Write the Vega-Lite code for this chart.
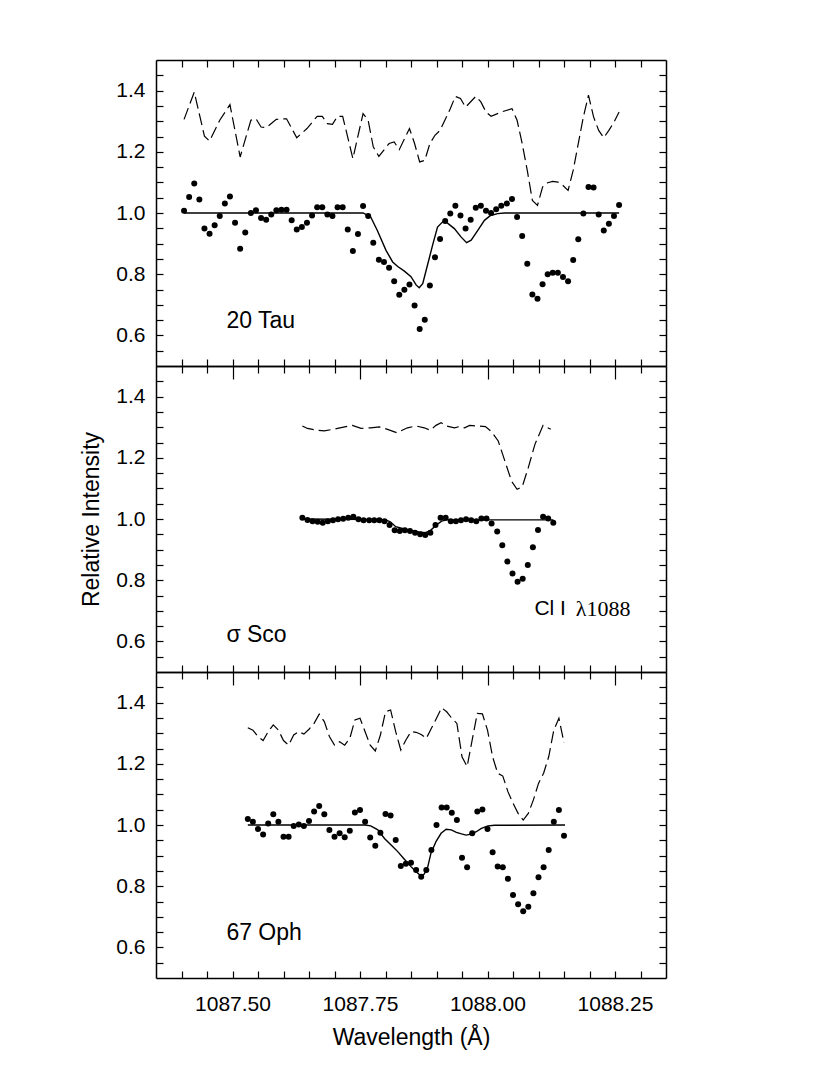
{
  "$schema": "https://vega.github.io/schema/vega-lite/v6.json",
  "padding": {"left": 80, "top": 59, "right": 10, "bottom": 10},
  "config": {
    "font": "Liberation Sans",
    "view": {"stroke": null},
    "axis": {
      "grid": false, "domain": true, "domainColor": "black", "domainWidth": 1.5,
      "ticks": true, "tickColor": "black", "tickWidth": 1.2, "tickSize": -7,
      "labelColor": "black", "labelFontSize": 21, "labelOverlap": false, "labelFlush": false,
      "titleFontSize": 23, "titleFontWeight": "normal", "titleColor": "black"
    }
  },
  "data": {"values": [
    {"p":"a","s":"o","w":1087.405,"r":1.007},{"p":"a","s":"o","w":1087.415,"r":1.052},{"p":"a","s":"o","w":1087.425,"r":1.096},{"p":"a","s":"o","w":1087.435,"r":1.044},
    {"p":"a","s":"o","w":1087.445,"r":0.949},{"p":"a","s":"o","w":1087.455,"r":0.932},{"p":"a","s":"o","w":1087.465,"r":0.960},{"p":"a","s":"o","w":1087.475,"r":0.990},
    {"p":"a","s":"o","w":1087.485,"r":1.031},{"p":"a","s":"o","w":1087.495,"r":1.054},{"p":"a","s":"o","w":1087.505,"r":0.968},{"p":"a","s":"o","w":1087.515,"r":0.883},
    {"p":"a","s":"o","w":1087.525,"r":0.936},{"p":"a","s":"o","w":1087.536,"r":1.000},{"p":"a","s":"o","w":1087.546,"r":1.009},{"p":"a","s":"o","w":1087.556,"r":0.984},
    {"p":"a","s":"o","w":1087.566,"r":0.978},{"p":"a","s":"o","w":1087.576,"r":0.995},{"p":"a","s":"o","w":1087.586,"r":1.009},{"p":"a","s":"o","w":1087.596,"r":1.011},
    {"p":"a","s":"o","w":1087.606,"r":1.011},{"p":"a","s":"o","w":1087.616,"r":0.976},{"p":"a","s":"o","w":1087.626,"r":0.946},{"p":"a","s":"o","w":1087.636,"r":0.954},
    {"p":"a","s":"o","w":1087.646,"r":0.968},{"p":"a","s":"o","w":1087.656,"r":0.992},{"p":"a","s":"o","w":1087.666,"r":1.019},{"p":"a","s":"o","w":1087.676,"r":1.019},
    {"p":"a","s":"o","w":1087.686,"r":0.995},{"p":"a","s":"o","w":1087.696,"r":0.990},{"p":"a","s":"o","w":1087.706,"r":1.019},{"p":"a","s":"o","w":1087.716,"r":1.019},
    {"p":"a","s":"o","w":1087.726,"r":0.946},{"p":"a","s":"o","w":1087.736,"r":0.876},{"p":"a","s":"o","w":1087.746,"r":0.931},{"p":"a","s":"o","w":1087.756,"r":1.023},
    {"p":"a","s":"o","w":1087.766,"r":0.990},{"p":"a","s":"o","w":1087.776,"r":0.903},{"p":"a","s":"o","w":1087.787,"r":0.847},{"p":"a","s":"o","w":1087.797,"r":0.840},
    {"p":"a","s":"o","w":1087.807,"r":0.821},{"p":"a","s":"o","w":1087.817,"r":0.777},{"p":"a","s":"o","w":1087.827,"r":0.733},{"p":"a","s":"o","w":1087.837,"r":0.749},
    {"p":"a","s":"o","w":1087.847,"r":0.766},{"p":"a","s":"o","w":1087.857,"r":0.698},{"p":"a","s":"o","w":1087.867,"r":0.621},{"p":"a","s":"o","w":1087.877,"r":0.651},
    {"p":"a","s":"o","w":1087.887,"r":0.763},{"p":"a","s":"o","w":1087.897,"r":0.855},{"p":"a","s":"o","w":1087.907,"r":0.915},{"p":"a","s":"o","w":1087.917,"r":0.974},
    {"p":"a","s":"o","w":1087.927,"r":0.998},{"p":"a","s":"o","w":1087.937,"r":1.024},{"p":"a","s":"o","w":1087.947,"r":0.992},{"p":"a","s":"o","w":1087.957,"r":0.949},
    {"p":"a","s":"o","w":1087.967,"r":0.978},{"p":"a","s":"o","w":1087.977,"r":1.017},{"p":"a","s":"o","w":1087.987,"r":1.024},{"p":"a","s":"o","w":1087.997,"r":1.007},
    {"p":"a","s":"o","w":1088.007,"r":1.000},{"p":"a","s":"o","w":1088.017,"r":1.012},{"p":"a","s":"o","w":1088.027,"r":1.024},{"p":"a","s":"o","w":1088.038,"r":1.031},
    {"p":"a","s":"o","w":1088.048,"r":1.046},{"p":"a","s":"o","w":1088.058,"r":0.987},{"p":"a","s":"o","w":1088.068,"r":0.925},{"p":"a","s":"o","w":1088.078,"r":0.834},
    {"p":"a","s":"o","w":1088.088,"r":0.734},{"p":"a","s":"o","w":1088.098,"r":0.720},{"p":"a","s":"o","w":1088.108,"r":0.767},{"p":"a","s":"o","w":1088.118,"r":0.800},
    {"p":"a","s":"o","w":1088.128,"r":0.805},{"p":"a","s":"o","w":1088.138,"r":0.805},{"p":"a","s":"o","w":1088.148,"r":0.791},{"p":"a","s":"o","w":1088.158,"r":0.777},
    {"p":"a","s":"o","w":1088.168,"r":0.846},{"p":"a","s":"o","w":1088.178,"r":0.914},{"p":"a","s":"o","w":1088.188,"r":0.998},{"p":"a","s":"o","w":1088.198,"r":1.085},
    {"p":"a","s":"o","w":1088.208,"r":1.083},{"p":"a","s":"o","w":1088.218,"r":0.995},{"p":"a","s":"o","w":1088.228,"r":0.943},{"p":"a","s":"o","w":1088.238,"r":0.965},
    {"p":"a","s":"o","w":1088.248,"r":0.990},{"p":"a","s":"o","w":1088.258,"r":1.026},

    {"p":"a","s":"d","w":1087.405,"r":1.306},{"p":"a","s":"d","w":1087.425,"r":1.395},{"p":"a","s":"d","w":1087.445,"r":1.251},{"p":"a","s":"d","w":1087.455,"r":1.235},
    {"p":"a","s":"d","w":1087.475,"r":1.303},{"p":"a","s":"d","w":1087.495,"r":1.354},{"p":"a","s":"d","w":1087.515,"r":1.183},{"p":"a","s":"d","w":1087.536,"r":1.303},
    {"p":"a","s":"d","w":1087.546,"r":1.308},{"p":"a","s":"d","w":1087.556,"r":1.281},{"p":"a","s":"d","w":1087.566,"r":1.279},{"p":"a","s":"d","w":1087.586,"r":1.306},
    {"p":"a","s":"d","w":1087.606,"r":1.308},{"p":"a","s":"d","w":1087.626,"r":1.246},{"p":"a","s":"d","w":1087.646,"r":1.276},{"p":"a","s":"d","w":1087.666,"r":1.316},
    {"p":"a","s":"d","w":1087.676,"r":1.316},{"p":"a","s":"d","w":1087.686,"r":1.292},{"p":"a","s":"d","w":1087.696,"r":1.290},{"p":"a","s":"d","w":1087.706,"r":1.316},
    {"p":"a","s":"d","w":1087.716,"r":1.316},{"p":"a","s":"d","w":1087.736,"r":1.178},{"p":"a","s":"d","w":1087.756,"r":1.325},{"p":"a","s":"d","w":1087.766,"r":1.303},
    {"p":"a","s":"d","w":1087.776,"r":1.216},{"p":"a","s":"d","w":1087.787,"r":1.185},{"p":"a","s":"d","w":1087.807,"r":1.227},{"p":"a","s":"d","w":1087.817,"r":1.232},
    {"p":"a","s":"d","w":1087.827,"r":1.207},{"p":"a","s":"d","w":1087.847,"r":1.276},{"p":"a","s":"d","w":1087.857,"r":1.227},{"p":"a","s":"d","w":1087.867,"r":1.167},
    {"p":"a","s":"d","w":1087.877,"r":1.172},{"p":"a","s":"d","w":1087.887,"r":1.227},{"p":"a","s":"d","w":1087.897,"r":1.254},{"p":"a","s":"d","w":1087.907,"r":1.270},
    {"p":"a","s":"d","w":1087.927,"r":1.341},{"p":"a","s":"d","w":1087.937,"r":1.381},{"p":"a","s":"d","w":1087.947,"r":1.374},{"p":"a","s":"d","w":1087.957,"r":1.346},
    {"p":"a","s":"d","w":1087.977,"r":1.381},{"p":"a","s":"d","w":1087.987,"r":1.363},{"p":"a","s":"d","w":1087.997,"r":1.330},{"p":"a","s":"d","w":1088.007,"r":1.316},
    {"p":"a","s":"d","w":1088.027,"r":1.330},{"p":"a","s":"d","w":1088.048,"r":1.341},{"p":"a","s":"d","w":1088.058,"r":1.303},{"p":"a","s":"d","w":1088.068,"r":1.227},
    {"p":"a","s":"d","w":1088.078,"r":1.139},{"p":"a","s":"d","w":1088.088,"r":1.041},{"p":"a","s":"d","w":1088.098,"r":1.025},{"p":"a","s":"d","w":1088.108,"r":1.085},
    {"p":"a","s":"d","w":1088.118,"r":1.099},{"p":"a","s":"d","w":1088.128,"r":1.103},{"p":"a","s":"d","w":1088.138,"r":1.101},{"p":"a","s":"d","w":1088.148,"r":1.090},
    {"p":"a","s":"d","w":1088.158,"r":1.074},{"p":"a","s":"d","w":1088.168,"r":1.139},{"p":"a","s":"d","w":1088.178,"r":1.227},{"p":"a","s":"d","w":1088.188,"r":1.314},
    {"p":"a","s":"d","w":1088.198,"r":1.385},{"p":"a","s":"d","w":1088.208,"r":1.314},{"p":"a","s":"d","w":1088.218,"r":1.270},{"p":"a","s":"d","w":1088.228,"r":1.246},
    {"p":"a","s":"d","w":1088.238,"r":1.270},{"p":"a","s":"d","w":1088.248,"r":1.297},{"p":"a","s":"d","w":1088.258,"r":1.330},

    {"p":"a","s":"m","w":1087.405,"r":1.0},{"p":"a","s":"m","w":1087.756,"r":1.0},{"p":"a","s":"m","w":1087.771,"r":0.987},{"p":"a","s":"m","w":1087.784,"r":0.943},
    {"p":"a","s":"m","w":1087.801,"r":0.878},{"p":"a","s":"m","w":1087.814,"r":0.840},{"p":"a","s":"m","w":1087.824,"r":0.825},{"p":"a","s":"m","w":1087.837,"r":0.810},
    {"p":"a","s":"m","w":1087.850,"r":0.792},{"p":"a","s":"m","w":1087.860,"r":0.765},{"p":"a","s":"m","w":1087.866,"r":0.756},{"p":"a","s":"m","w":1087.873,"r":0.769},
    {"p":"a","s":"m","w":1087.883,"r":0.834},{"p":"a","s":"m","w":1087.893,"r":0.899},{"p":"a","s":"m","w":1087.902,"r":0.954},{"p":"a","s":"m","w":1087.915,"r":0.976},
    {"p":"a","s":"m","w":1087.935,"r":0.949},{"p":"a","s":"m","w":1087.948,"r":0.922},{"p":"a","s":"m","w":1087.959,"r":0.903},{"p":"a","s":"m","w":1087.968,"r":0.911},
    {"p":"a","s":"m","w":1087.981,"r":0.943},{"p":"a","s":"m","w":1087.994,"r":0.976},{"p":"a","s":"m","w":1088.006,"r":0.992},{"p":"a","s":"m","w":1088.020,"r":0.998},
    {"p":"a","s":"m","w":1088.033,"r":1.0},{"p":"a","s":"m","w":1088.258,"r":1.0},

    {"p":"b","s":"o","w":1087.637,"r":1.004},{"p":"b","s":"o","w":1087.647,"r":0.997},{"p":"b","s":"o","w":1087.657,"r":0.993},{"p":"b","s":"o","w":1087.667,"r":0.991},
    {"p":"b","s":"o","w":1087.677,"r":0.988},{"p":"b","s":"o","w":1087.687,"r":0.993},{"p":"b","s":"o","w":1087.697,"r":0.996},{"p":"b","s":"o","w":1087.707,"r":0.999},
    {"p":"b","s":"o","w":1087.717,"r":1.001},{"p":"b","s":"o","w":1087.727,"r":1.004},{"p":"b","s":"o","w":1087.737,"r":1.007},{"p":"b","s":"o","w":1087.747,"r":0.999},
    {"p":"b","s":"o","w":1087.757,"r":0.996},{"p":"b","s":"o","w":1087.768,"r":0.996},{"p":"b","s":"o","w":1087.778,"r":0.996},{"p":"b","s":"o","w":1087.788,"r":0.996},
    {"p":"b","s":"o","w":1087.798,"r":0.993},{"p":"b","s":"o","w":1087.808,"r":0.980},{"p":"b","s":"o","w":1087.818,"r":0.963},{"p":"b","s":"o","w":1087.828,"r":0.961},
    {"p":"b","s":"o","w":1087.838,"r":0.963},{"p":"b","s":"o","w":1087.848,"r":0.961},{"p":"b","s":"o","w":1087.858,"r":0.955},{"p":"b","s":"o","w":1087.868,"r":0.950},
    {"p":"b","s":"o","w":1087.878,"r":0.948},{"p":"b","s":"o","w":1087.888,"r":0.955},{"p":"b","s":"o","w":1087.898,"r":0.980},{"p":"b","s":"o","w":1087.908,"r":1.004},
    {"p":"b","s":"o","w":1087.918,"r":1.004},{"p":"b","s":"o","w":1087.928,"r":0.993},{"p":"b","s":"o","w":1087.938,"r":0.993},{"p":"b","s":"o","w":1087.948,"r":0.996},
    {"p":"b","s":"o","w":1087.958,"r":0.999},{"p":"b","s":"o","w":1087.968,"r":0.996},{"p":"b","s":"o","w":1087.978,"r":0.993},{"p":"b","s":"o","w":1087.988,"r":1.002},
    {"p":"b","s":"o","w":1087.998,"r":1.002},{"p":"b","s":"o","w":1088.008,"r":0.985},{"p":"b","s":"o","w":1088.019,"r":0.959},{"p":"b","s":"o","w":1088.029,"r":0.914},
    {"p":"b","s":"o","w":1088.039,"r":0.861},{"p":"b","s":"o","w":1088.049,"r":0.822},{"p":"b","s":"o","w":1088.059,"r":0.795},{"p":"b","s":"o","w":1088.069,"r":0.805},
    {"p":"b","s":"o","w":1088.079,"r":0.850},{"p":"b","s":"o","w":1088.089,"r":0.908},{"p":"b","s":"o","w":1088.099,"r":0.964},{"p":"b","s":"o","w":1088.109,"r":1.007},
    {"p":"b","s":"o","w":1088.119,"r":1.002},{"p":"b","s":"o","w":1088.129,"r":0.988},

    {"p":"b","s":"d","w":1087.637,"r":1.304},{"p":"b","s":"d","w":1087.647,"r":1.296},{"p":"b","s":"d","w":1087.666,"r":1.290},{"p":"b","s":"d","w":1087.680,"r":1.288},
    {"p":"b","s":"d","w":1087.706,"r":1.296},{"p":"b","s":"d","w":1087.735,"r":1.306},{"p":"b","s":"d","w":1087.752,"r":1.296},{"p":"b","s":"d","w":1087.771,"r":1.298},
    {"p":"b","s":"d","w":1087.788,"r":1.301},{"p":"b","s":"d","w":1087.804,"r":1.293},{"p":"b","s":"d","w":1087.822,"r":1.282},{"p":"b","s":"d","w":1087.843,"r":1.298},
    {"p":"b","s":"d","w":1087.860,"r":1.304},{"p":"b","s":"d","w":1087.876,"r":1.298},{"p":"b","s":"d","w":1087.888,"r":1.290},{"p":"b","s":"d","w":1087.899,"r":1.306},
    {"p":"b","s":"d","w":1087.909,"r":1.315},{"p":"b","s":"d","w":1087.919,"r":1.304},{"p":"b","s":"d","w":1087.935,"r":1.298},{"p":"b","s":"d","w":1087.945,"r":1.302},
    {"p":"b","s":"d","w":1087.955,"r":1.298},{"p":"b","s":"d","w":1087.965,"r":1.306},{"p":"b","s":"d","w":1087.978,"r":1.304},{"p":"b","s":"d","w":1087.996,"r":1.302},
    {"p":"b","s":"d","w":1088.008,"r":1.285},{"p":"b","s":"d","w":1088.021,"r":1.255},{"p":"b","s":"d","w":1088.034,"r":1.190},{"p":"b","s":"d","w":1088.047,"r":1.124},
    {"p":"b","s":"d","w":1088.058,"r":1.097},{"p":"b","s":"d","w":1088.068,"r":1.105},{"p":"b","s":"d","w":1088.080,"r":1.168},{"p":"b","s":"d","w":1088.093,"r":1.244},
    {"p":"b","s":"d","w":1088.109,"r":1.306},{"p":"b","s":"d","w":1088.124,"r":1.293},

    {"p":"b","s":"m","w":1087.637,"r":1.0},{"p":"b","s":"m","w":1087.800,"r":0.998},{"p":"b","s":"m","w":1087.810,"r":0.990},{"p":"b","s":"m","w":1087.820,"r":0.975},
    {"p":"b","s":"m","w":1087.835,"r":0.968},{"p":"b","s":"m","w":1087.850,"r":0.963},{"p":"b","s":"m","w":1087.865,"r":0.958},{"p":"b","s":"m","w":1087.878,"r":0.955},
    {"p":"b","s":"m","w":1087.888,"r":0.962},{"p":"b","s":"m","w":1087.898,"r":0.978},{"p":"b","s":"m","w":1087.910,"r":0.993},{"p":"b","s":"m","w":1087.920,"r":0.997},
    {"p":"b","s":"m","w":1088.129,"r":0.997},

    {"p":"c","s":"o","w":1087.53,"r":1.020},{"p":"c","s":"o","w":1087.54,"r":1.011},{"p":"c","s":"o","w":1087.55,"r":0.987},{"p":"c","s":"o","w":1087.56,"r":0.969},
    {"p":"c","s":"o","w":1087.57,"r":1.005},{"p":"c","s":"o","w":1087.58,"r":1.035},{"p":"c","s":"o","w":1087.59,"r":1.011},{"p":"c","s":"o","w":1087.60,"r":0.962},
    {"p":"c","s":"o","w":1087.61,"r":0.962},{"p":"c","s":"o","w":1087.62,"r":0.997},{"p":"c","s":"o","w":1087.63,"r":1.002},{"p":"c","s":"o","w":1087.64,"r":0.997},
    {"p":"c","s":"o","w":1087.65,"r":1.013},{"p":"c","s":"o","w":1087.66,"r":1.044},{"p":"c","s":"o","w":1087.67,"r":1.062},{"p":"c","s":"o","w":1087.68,"r":1.035},
    {"p":"c","s":"o","w":1087.69,"r":0.984},{"p":"c","s":"o","w":1087.70,"r":0.962},{"p":"c","s":"o","w":1087.71,"r":0.973},{"p":"c","s":"o","w":1087.72,"r":0.960},
    {"p":"c","s":"o","w":1087.73,"r":0.981},{"p":"c","s":"o","w":1087.74,"r":1.041},{"p":"c","s":"o","w":1087.75,"r":1.049},{"p":"c","s":"o","w":1087.76,"r":1.011},
    {"p":"c","s":"o","w":1087.77,"r":0.959},{"p":"c","s":"o","w":1087.78,"r":0.932},{"p":"c","s":"o","w":1087.79,"r":0.975},{"p":"c","s":"o","w":1087.80,"r":1.036},
    {"p":"c","s":"o","w":1087.81,"r":1.031},{"p":"c","s":"o","w":1087.82,"r":0.951},{"p":"c","s":"o","w":1087.83,"r":0.866},{"p":"c","s":"o","w":1087.84,"r":0.873},
    {"p":"c","s":"o","w":1087.85,"r":0.877},{"p":"c","s":"o","w":1087.86,"r":0.853},{"p":"c","s":"o","w":1087.87,"r":0.831},{"p":"c","s":"o","w":1087.88,"r":0.853},
    {"p":"c","s":"o","w":1087.89,"r":0.918},{"p":"c","s":"o","w":1087.90,"r":1.000},{"p":"c","s":"o","w":1087.91,"r":1.057},{"p":"c","s":"o","w":1087.92,"r":1.057},
    {"p":"c","s":"o","w":1087.93,"r":1.040},{"p":"c","s":"o","w":1087.94,"r":1.016},{"p":"c","s":"o","w":1087.95,"r":0.893},{"p":"c","s":"o","w":1087.96,"r":0.862},
    {"p":"c","s":"o","w":1087.97,"r":0.973},{"p":"c","s":"o","w":1087.98,"r":1.044},{"p":"c","s":"o","w":1087.99,"r":1.051},{"p":"c","s":"o","w":1088.00,"r":0.987},
    {"p":"c","s":"o","w":1088.01,"r":0.911},{"p":"c","s":"o","w":1088.02,"r":0.864},{"p":"c","s":"o","w":1088.03,"r":0.862},{"p":"c","s":"o","w":1088.04,"r":0.824},
    {"p":"c","s":"o","w":1088.05,"r":0.771},{"p":"c","s":"o","w":1088.06,"r":0.741},{"p":"c","s":"o","w":1088.07,"r":0.718},{"p":"c","s":"o","w":1088.08,"r":0.733},
    {"p":"c","s":"o","w":1088.09,"r":0.777},{"p":"c","s":"o","w":1088.10,"r":0.829},{"p":"c","s":"o","w":1088.11,"r":0.862},{"p":"c","s":"o","w":1088.12,"r":0.918},
    {"p":"c","s":"o","w":1088.13,"r":1.011},{"p":"c","s":"o","w":1088.14,"r":1.049},{"p":"c","s":"o","w":1088.15,"r":0.965},

    {"p":"c","s":"d","w":1087.53,"r":1.318},{"p":"c","s":"d","w":1087.54,"r":1.310},{"p":"c","s":"d","w":1087.55,"r":1.289},{"p":"c","s":"d","w":1087.56,"r":1.276},
    {"p":"c","s":"d","w":1087.57,"r":1.305},{"p":"c","s":"d","w":1087.58,"r":1.327},{"p":"c","s":"d","w":1087.59,"r":1.310},{"p":"c","s":"d","w":1087.60,"r":1.276},
    {"p":"c","s":"d","w":1087.61,"r":1.261},{"p":"c","s":"d","w":1087.62,"r":1.294},{"p":"c","s":"d","w":1087.63,"r":1.305},{"p":"c","s":"d","w":1087.64,"r":1.297},
    {"p":"c","s":"d","w":1087.65,"r":1.313},{"p":"c","s":"d","w":1087.66,"r":1.332},{"p":"c","s":"d","w":1087.67,"r":1.362},{"p":"c","s":"d","w":1087.68,"r":1.338},
    {"p":"c","s":"d","w":1087.69,"r":1.289},{"p":"c","s":"d","w":1087.70,"r":1.261},{"p":"c","s":"d","w":1087.71,"r":1.272},{"p":"c","s":"d","w":1087.72,"r":1.261},
    {"p":"c","s":"d","w":1087.73,"r":1.283},{"p":"c","s":"d","w":1087.74,"r":1.343},{"p":"c","s":"d","w":1087.75,"r":1.349},{"p":"c","s":"d","w":1087.76,"r":1.305},
    {"p":"c","s":"d","w":1087.77,"r":1.261},{"p":"c","s":"d","w":1087.78,"r":1.242},{"p":"c","s":"d","w":1087.79,"r":1.294},{"p":"c","s":"d","w":1087.80,"r":1.370},
    {"p":"c","s":"d","w":1087.81,"r":1.376},{"p":"c","s":"d","w":1087.82,"r":1.305},{"p":"c","s":"d","w":1087.83,"r":1.245},{"p":"c","s":"d","w":1087.84,"r":1.278},
    {"p":"c","s":"d","w":1087.85,"r":1.305},{"p":"c","s":"d","w":1087.86,"r":1.303},{"p":"c","s":"d","w":1087.87,"r":1.296},{"p":"c","s":"d","w":1087.88,"r":1.283},
    {"p":"c","s":"d","w":1087.89,"r":1.316},{"p":"c","s":"d","w":1087.90,"r":1.349},{"p":"c","s":"d","w":1087.91,"r":1.383},{"p":"c","s":"d","w":1087.92,"r":1.370},
    {"p":"c","s":"d","w":1087.93,"r":1.349},{"p":"c","s":"d","w":1087.94,"r":1.332},{"p":"c","s":"d","w":1087.95,"r":1.223},{"p":"c","s":"d","w":1087.96,"r":1.191},
    {"p":"c","s":"d","w":1087.97,"r":1.278},{"p":"c","s":"d","w":1087.98,"r":1.365},{"p":"c","s":"d","w":1087.99,"r":1.363},{"p":"c","s":"d","w":1088.00,"r":1.310},
    {"p":"c","s":"d","w":1088.01,"r":1.223},{"p":"c","s":"d","w":1088.02,"r":1.169},{"p":"c","s":"d","w":1088.03,"r":1.160},{"p":"c","s":"d","w":1088.04,"r":1.109},
    {"p":"c","s":"d","w":1088.05,"r":1.071},{"p":"c","s":"d","w":1088.06,"r":1.038},{"p":"c","s":"d","w":1088.07,"r":1.016},{"p":"c","s":"d","w":1088.08,"r":1.038},
    {"p":"c","s":"d","w":1088.09,"r":1.082},{"p":"c","s":"d","w":1088.10,"r":1.136},{"p":"c","s":"d","w":1088.11,"r":1.169},{"p":"c","s":"d","w":1088.12,"r":1.223},
    {"p":"c","s":"d","w":1088.13,"r":1.310},{"p":"c","s":"d","w":1088.14,"r":1.349},{"p":"c","s":"d","w":1088.15,"r":1.269},

    {"p":"c","s":"m","w":1087.53,"r":1.0},{"p":"c","s":"m","w":1087.76,"r":1.0},{"p":"c","s":"m","w":1087.771,"r":0.997},{"p":"c","s":"m","w":1087.785,"r":0.984},
    {"p":"c","s":"m","w":1087.798,"r":0.956},{"p":"c","s":"m","w":1087.811,"r":0.935},{"p":"c","s":"m","w":1087.824,"r":0.913},{"p":"c","s":"m","w":1087.837,"r":0.888},
    {"p":"c","s":"m","w":1087.850,"r":0.864},{"p":"c","s":"m","w":1087.860,"r":0.847},{"p":"c","s":"m","w":1087.870,"r":0.833},{"p":"c","s":"m","w":1087.876,"r":0.840},
    {"p":"c","s":"m","w":1087.883,"r":0.864},{"p":"c","s":"m","w":1087.889,"r":0.907},{"p":"c","s":"m","w":1087.899,"r":0.946},{"p":"c","s":"m","w":1087.909,"r":0.973},
    {"p":"c","s":"m","w":1087.919,"r":0.986},{"p":"c","s":"m","w":1087.929,"r":0.984},{"p":"c","s":"m","w":1087.939,"r":0.976},{"p":"c","s":"m","w":1087.949,"r":0.971},
    {"p":"c","s":"m","w":1087.958,"r":0.967},{"p":"c","s":"m","w":1087.968,"r":0.970},{"p":"c","s":"m","w":1087.978,"r":0.978},{"p":"c","s":"m","w":1087.988,"r":0.989},
    {"p":"c","s":"m","w":1088.001,"r":0.997},{"p":"c","s":"m","w":1088.014,"r":0.999},{"p":"c","s":"m","w":1088.152,"r":1.0}
  ]},
  "spacing": 0,
  "bounds": "flush",
  "vconcat": [
    {
      "width": 510, "height": 306,
      "transform": [{"filter": "datum.p == 'a'"}],
      "layer": [
        {"transform": [{"filter": "datum.s == 'o'"}],
         "mark": {"type": "circle", "size": 36, "color": "black", "opacity": 1},
         "encoding": {
           "x": {"field": "w", "type": "quantitative", "scale": {"domain": [1087.35, 1088.35], "nice": false, "zero": false},
                 "axis": {"orient": "bottom", "values": [1087.40,1087.45,1087.50,1087.55,1087.60,1087.65,1087.70,1087.75,1087.80,1087.85,1087.90,1087.95,1088.00,1088.05,1088.10,1088.15,1088.20,1088.25,1088.30], "labels": false, "title": null}},
           "y": {"field": "r", "type": "quantitative", "scale": {"domain": [0.5, 1.5], "nice": false, "zero": false},
                 "axis": {"orient": "left", "values": [0.55,0.6,0.65,0.7,0.75,0.8,0.85,0.9,0.95,1.0,1.05,1.1,1.15,1.2,1.25,1.3,1.35,1.4,1.45], "labelPadding": 18, "labelExpr": "round(datum.value*20) % 4 == 0 ? format(datum.value, '.1f') : ''", "title": null}}
         }},
        {"transform": [{"filter": "datum.s == 'm'"}],
         "mark": {"type": "line", "color": "black", "strokeWidth": 1.4},
         "encoding": {
           "x": {"field": "w", "type": "quantitative", "axis": {"orient": "top", "values": [1087.40,1087.45,1087.50,1087.55,1087.60,1087.65,1087.70,1087.75,1087.80,1087.85,1087.90,1087.95,1088.00,1088.05,1088.10,1088.15,1088.20,1088.25,1088.30], "labels": false, "title": null}},
           "y": {"field": "r", "type": "quantitative", "axis": {"orient": "right", "values": [0.55,0.6,0.65,0.7,0.75,0.8,0.85,0.9,0.95,1.0,1.05,1.1,1.15,1.2,1.25,1.3,1.35,1.4,1.45], "labels": false, "title": null}}
         }},
        {"transform": [{"filter": "datum.s == 'd'"}],
         "mark": {"type": "line", "color": "black", "strokeWidth": 1.2, "strokeDash": [12, 5]},
         "encoding": {
           "x": {"field": "w", "type": "quantitative", "axis": null},
           "y": {"field": "r", "type": "quantitative", "axis": null}
         }},
        {"data": {"values": [{}]},
         "mark": {"type": "text", "align": "left", "baseline": "middle", "fontSize": 23, "color": "black"},
         "encoding": {
           "x": {"datum": 1087.488, "type": "quantitative", "axis": null},
           "y": {"datum": 0.646, "type": "quantitative", "axis": null},
           "text": {"value": "20 Tau"}
         }}
      ],
      "resolve": {"axis": {"x": "independent", "y": "independent"}}
    },
    {
      "width": 510, "height": 306,
      "transform": [{"filter": "datum.p == 'b'"}],
      "layer": [
        {"transform": [{"filter": "datum.s == 'o'"}],
         "mark": {"type": "circle", "size": 36, "color": "black", "opacity": 1},
         "encoding": {
           "x": {"field": "w", "type": "quantitative", "scale": {"domain": [1087.35, 1088.35], "nice": false, "zero": false},
                 "axis": {"orient": "bottom", "values": [1087.40,1087.45,1087.50,1087.55,1087.60,1087.65,1087.70,1087.75,1087.80,1087.85,1087.90,1087.95,1088.00,1088.05,1088.10,1088.15,1088.20,1088.25,1088.30], "labels": false, "title": null}},
           "y": {"field": "r", "type": "quantitative", "scale": {"domain": [0.5, 1.5], "nice": false, "zero": false},
                 "axis": {"orient": "left", "values": [0.55,0.6,0.65,0.7,0.75,0.8,0.85,0.9,0.95,1.0,1.05,1.1,1.15,1.2,1.25,1.3,1.35,1.4,1.45], "labelPadding": 18, "labelExpr": "round(datum.value*20) % 4 == 0 ? format(datum.value, '.1f') : ''", "title": "Relative Intensity", "titlePadding": 12}}
         }},
        {"transform": [{"filter": "datum.s == 'm'"}],
         "mark": {"type": "line", "color": "black", "strokeWidth": 1.4},
         "encoding": {
           "x": {"field": "w", "type": "quantitative", "axis": {"orient": "top", "values": [1087.40,1087.45,1087.50,1087.55,1087.60,1087.65,1087.70,1087.75,1087.80,1087.85,1087.90,1087.95,1088.00,1088.05,1088.10,1088.15,1088.20,1088.25,1088.30], "labels": false, "tickSize": {"condition": {"test": "round(datum.value*20) % 5 == 0", "value": -13}, "value": -7}, "title": null}},
           "y": {"field": "r", "type": "quantitative", "axis": {"orient": "right", "values": [0.55,0.6,0.65,0.7,0.75,0.8,0.85,0.9,0.95,1.0,1.05,1.1,1.15,1.2,1.25,1.3,1.35,1.4,1.45], "labels": false, "title": null}}
         }},
        {"transform": [{"filter": "datum.s == 'd'"}],
         "mark": {"type": "line", "color": "black", "strokeWidth": 1.2, "strokeDash": [12, 5]},
         "encoding": {
           "x": {"field": "w", "type": "quantitative", "axis": null},
           "y": {"field": "r", "type": "quantitative", "axis": null}
         }},
        {"data": {"values": [{}]},
         "mark": {"type": "text", "align": "left", "baseline": "middle", "fontSize": 23, "color": "black"},
         "encoding": {
           "x": {"datum": 1087.488, "type": "quantitative", "axis": null},
           "y": {"datum": 0.622, "type": "quantitative", "axis": null},
           "text": {"value": "σ Sco"}
         }},
        {"data": {"values": [{}]},
         "mark": {"type": "text", "align": "left", "baseline": "middle", "fontSize": 21, "color": "black"},
         "encoding": {
           "x": {"datum": 1088.092, "type": "quantitative", "axis": null},
           "y": {"datum": 0.706, "type": "quantitative", "axis": null},
           "text": {"value": "Cl I"}
         }},
        {"data": {"values": [{}]},
         "mark": {"type": "text", "align": "left", "baseline": "middle", "fontSize": 22, "font": "Liberation Serif", "color": "black"},
         "encoding": {
           "x": {"datum": 1088.173, "type": "quantitative", "axis": null},
           "y": {"datum": 0.706, "type": "quantitative", "axis": null},
           "text": {"value": "λ1088"}
         }}
      ],
      "resolve": {"axis": {"x": "independent", "y": "independent"}}
    },
    {
      "width": 510, "height": 306,
      "transform": [{"filter": "datum.p == 'c'"}],
      "layer": [
        {"transform": [{"filter": "datum.s == 'o'"}],
         "mark": {"type": "circle", "size": 36, "color": "black", "opacity": 1},
         "encoding": {
           "x": {"field": "w", "type": "quantitative", "scale": {"domain": [1087.35, 1088.35], "nice": false, "zero": false},
                 "axis": {"orient": "bottom", "values": [1087.40,1087.45,1087.50,1087.55,1087.60,1087.65,1087.70,1087.75,1087.80,1087.85,1087.90,1087.95,1088.00,1088.05,1088.10,1088.15,1088.20,1088.25,1088.30], "labelPadding": 22, "labelExpr": "round(datum.value*20) % 5 == 0 ? format(datum.value, '.2f') : ''", "title": "Wavelength (Å)", "titlePadding": 12}},
           "y": {"field": "r", "type": "quantitative", "scale": {"domain": [0.5, 1.5], "nice": false, "zero": false},
                 "axis": {"orient": "left", "values": [0.55,0.6,0.65,0.7,0.75,0.8,0.85,0.9,0.95,1.0,1.05,1.1,1.15,1.2,1.25,1.3,1.35,1.4,1.45], "labelPadding": 18, "labelExpr": "round(datum.value*20) % 4 == 0 ? format(datum.value, '.1f') : ''", "title": null}}
         }},
        {"transform": [{"filter": "datum.s == 'm'"}],
         "mark": {"type": "line", "color": "black", "strokeWidth": 1.4},
         "encoding": {
           "x": {"field": "w", "type": "quantitative", "axis": {"orient": "top", "values": [1087.40,1087.45,1087.50,1087.55,1087.60,1087.65,1087.70,1087.75,1087.80,1087.85,1087.90,1087.95,1088.00,1088.05,1088.10,1088.15,1088.20,1088.25,1088.30], "labels": false, "tickSize": {"condition": {"test": "round(datum.value*20) % 5 == 0", "value": -13}, "value": -7}, "title": null}},
           "y": {"field": "r", "type": "quantitative", "axis": {"orient": "right", "values": [0.55,0.6,0.65,0.7,0.75,0.8,0.85,0.9,0.95,1.0,1.05,1.1,1.15,1.2,1.25,1.3,1.35,1.4,1.45], "labels": false, "title": null}}
         }},
        {"transform": [{"filter": "datum.s == 'd'"}],
         "mark": {"type": "line", "color": "black", "strokeWidth": 1.2, "strokeDash": [12, 5]},
         "encoding": {
           "x": {"field": "w", "type": "quantitative", "axis": null},
           "y": {"field": "r", "type": "quantitative", "axis": null}
         }},
        {"data": {"values": [{}]},
         "mark": {"type": "text", "align": "left", "baseline": "middle", "fontSize": 23, "color": "black"},
         "encoding": {
           "x": {"datum": 1087.488, "type": "quantitative", "axis": null},
           "y": {"datum": 0.648, "type": "quantitative", "axis": null},
           "text": {"value": "67 Oph"}
         }}
      ],
      "resolve": {"axis": {"x": "independent", "y": "independent"}}
    }
  ]
}
